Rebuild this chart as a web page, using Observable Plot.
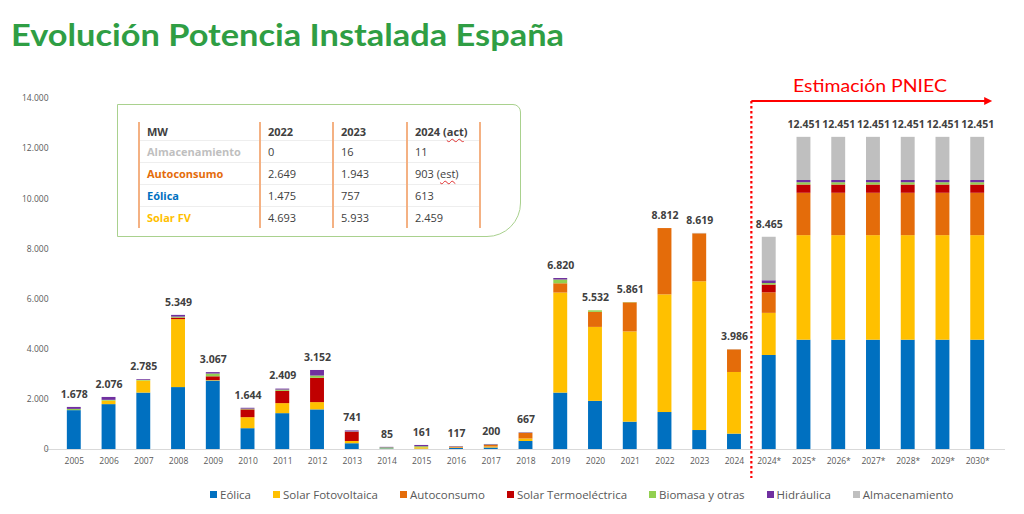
<!DOCTYPE html>
<html><head><meta charset="utf-8">
<script src="https://cdn.jsdelivr.net/npm/d3@7"></script>
<script src="https://cdn.jsdelivr.net/npm/@observablehq/plot@0.6"></script>
<style>
body{margin:0;background:#fff;}
#wrap{position:relative;width:1024px;height:514px;overflow:hidden;font-family:"Open Sans",sans-serif;}
#box{position:absolute;left:117px;top:104px;width:404px;height:133px;border:1.5px solid #a9d18e;border-radius:0 8px 34px 0;box-sizing:border-box;background:#fff;}
#tbl{position:absolute;left:138px;top:122px;border-collapse:collapse;font-size:11px;color:#404040;}
#tbl td{height:21px;padding:0 0 0 7px;border-left:2px solid #f4b183;border-right:2px solid #f4b183;border-top:1px solid #eeeeee;white-space:nowrap;vertical-align:middle;}
#tbl tr:first-child td{height:18px;border-top:none;font-weight:700;}
#tbl td.lab{font-weight:700;}
.sq{text-decoration:underline wavy #e03030;text-decoration-thickness:1px;text-underline-offset:2px;}
#legend{position:absolute;left:210px;top:487px;display:flex;gap:22px;font-size:11.5px;color:#595959;}
#legend .it{display:flex;align-items:center;gap:3px;}
#legend .sw{width:7px;height:7px;display:inline-block;}
</style></head><body><div id="wrap"></div>
<script>
const categories = ["2005","2006","2007","2008","2009","2010","2011","2012","2013","2014","2015","2016","2017","2018","2019","2020","2021","2022","2023","2024","2024*","2025*","2026*","2027*","2028*","2029*","2030*"];
const techs = ["Eólica","Solar Fotovoltaica","Autoconsumo","Solar Termoeléctrica","Biomasa y otras","Hidráulica","Almacenamiento"];
const techColors = ["#0070c0","#ffc000","#e46c0a","#c00000","#92d050","#7030a0","#bfbfbf"];

const eolica      = [1550,1790,2250,2470,2730,830,1430,1580,230,20,10,40,60,320,2250,1920,1090,1475,757,613,3750,4360,4360,4360,4360,4360,4360];
const solarFV     = [0,140,480,2710,20,440,400,290,90,5,60,20,40,100,3990,2950,3600,4693,5933,2459,1680,4170,4170,4170,4170,4170,4170];
const autoconsumo = [0,0,0,0,0,0,0,0,0,0,0,30,60,220,370,600,1160,2644,1913,903,820,1690,1690,1690,1690,1690,1690];
const termo       = [0,0,0,60,150,310,490,970,370,0,0,0,0,0,0,0,0,0,0,0,310,330,330,330,330,330,330];
const biomasa     = [50,30,25,40,110,30,50,90,10,40,40,10,20,10,150,62,11,0,0,0,60,90,90,90,90,90,90];
const hidraulica  = [78,116,30,69,57,34,39,222,41,20,51,17,20,17,60,0,0,0,0,0,110,90,90,90,90,90,90];
const almacen     = [0,0,0,0,0,0,0,0,0,0,0,0,0,0,0,0,0,0,16,11,1735,1721,1721,1721,1721,1721,1721];
const series = [eolica, solarFV, autoconsumo, termo, biomasa, hidraulica, almacen];

const yTicks = [0,2000,4000,6000,8000,10000,12000,14000];

const tableHeader = ["MW","2022","2023","2024 (act)"];
const tableLabels = ["Almacenamiento","Autoconsumo","Eólica","Solar FV"];
const tableLabelColors = ["#bfbfbf","#e46c0a","#0070c0","#ffc000"];
const table2022 = ["0","2.649","1.475","4.693"];
const table2023 = ["16","1.943","757","5.933"];
const table2024 = ["11","903 (est)","613","2.459"];

const loc = d3.formatLocale({decimal:",", thousands:".", grouping:[3], currency:["","€"]});
const fmt = loc.format(",d");

const data = [];
techs.forEach((t, i) => categories.forEach((c, j) => data.push({year: c, tech: t, value: series[i][j]})));
const totals = categories.map((c, j) => ({year: c, total: d3.sum(series, s => s[j])}));

const chart = Plot.plot({
  width: 1024, height: 514,
  marginTop: 98, marginBottom: 65, marginLeft: 46, marginRight: 19,
  x: {domain: categories, padding: 0.6, round: false, label: null},
  y: {domain: [0, 14000], label: null},
  color: {domain: techs, range: techColors},
  style: {fontFamily: "'Open Sans', sans-serif", color: "#595959", background: "transparent", overflow: "visible"},
  marks: [
    Plot.ruleY([0], {stroke: "#d9d9d9"}),
    Plot.barY(data, {x: "year", y: "value", fill: "tech", order: techs}),
    Plot.text(totals, {x: "year", y: "total", text: d => fmt(d.total), dy: -13, fontSize: 10.5, fontWeight: "bold", fill: "#404040"}),
    Plot.axisX({tickSize: 0, tickPadding: 8, fontSize: 8.5, label: null}),
    Plot.axisY({ticks: yTicks, tickSize: 0, tickPadding: 0, dx: 2, tickFormat: fmt, fontSize: 8.5, label: null})
  ]
});
chart.style.position = "absolute";
chart.style.left = "0px";
chart.style.top = "0px";
const wrap = document.getElementById("wrap");
wrap.appendChild(chart);

// annotations positioned from the scales
const xs = chart.scale("x"), ys = chart.scale("y");
const svg = d3.select(chart);
const xMid = xs.apply("2024") + xs.bandwidth + (xs.step - xs.bandwidth) / 2;
const xEnd = xs.apply("2030*") + xs.bandwidth / 2 + 15;
const yTop = ys.apply(14000) + 3;
const yBot = ys.apply(0) + 29;
svg.append("line").attr("x1", xMid).attr("x2", xMid).attr("y1", yTop).attr("y2", yBot)
  .attr("stroke", "#ff0000").attr("stroke-width", 2.2).attr("stroke-dasharray", "2.5,2.5");
svg.append("line").attr("x1", xMid).attr("x2", xEnd - 6).attr("y1", yTop).attr("y2", yTop)
  .attr("stroke", "#ff0000").attr("stroke-width", 2.2);
svg.append("path").attr("d", `M${xEnd},${yTop} L${xEnd - 8},${yTop - 4} L${xEnd - 8},${yTop + 4} Z`).attr("fill", "#ff0000");
svg.append("text").attr("x", 793).attr("y", 92).attr("text-anchor", "start").attr("textLength", 154).attr("lengthAdjust", "spacingAndGlyphs")
  .attr("font-family", "Lato, 'Open Sans', sans-serif").attr("font-size", 17.5).attr("fill", "#ff0000").text("Estimación PNIEC");

// title
svg.append("text").attr("x", 11).attr("y", 46).attr("text-anchor", "start").attr("textLength", 553).attr("lengthAdjust", "spacingAndGlyphs")
  .attr("font-family", "Lato, 'Open Sans', sans-serif").attr("font-weight", 700).attr("font-size", 31).attr("fill", "#2f9e44")
  .text("Evolución Potencia Instalada España");

// table box
const box = document.createElement("div"); box.id = "box"; wrap.appendChild(box);
const tbl = d3.select(wrap).append("table").attr("id", "tbl");
const colW = [121, 73, 74, 73];
const wavy = s => s.replace(/\((act|est)\)/, '(<span class="sq">$1</span>)');
const hr = tbl.append("tr");
tableHeader.forEach((h, i) => hr.append("td").style("width", (colW[i] - 9) + "px").html(wavy(h)));
tableLabels.forEach((lab, i) => {
  const tr = tbl.append("tr");
  tr.append("td").attr("class", "lab").style("color", tableLabelColors[i]).text(lab);
  [table2022, table2023, table2024].forEach(col => tr.append("td").html(wavy(col[i])));
});

// legend
const leg = d3.select(wrap).append("div").attr("id", "legend");
techs.forEach((t, i) => {
  const it = leg.append("div").attr("class", "it");
  it.append("span").attr("class", "sw").style("background", techColors[i]);
  it.append("span").text(t);
});
</script></body></html>
